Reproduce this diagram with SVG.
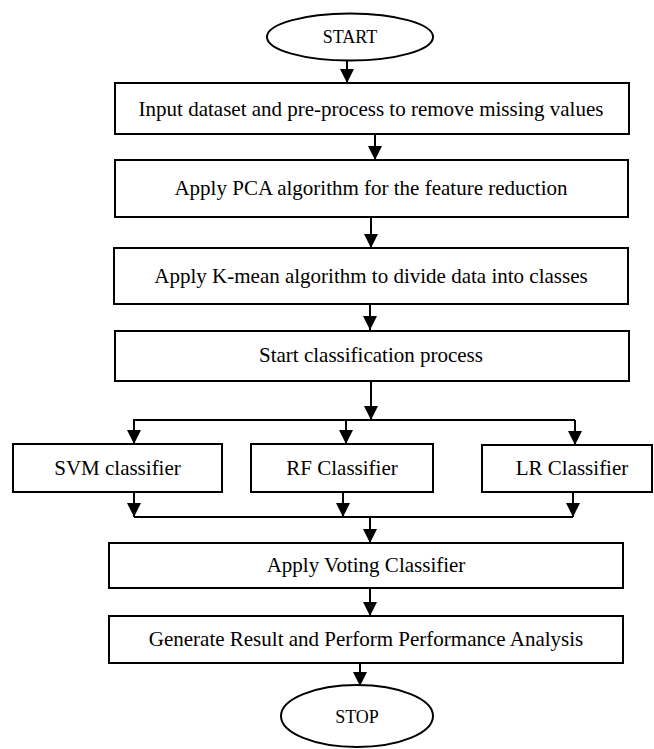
<svg xmlns="http://www.w3.org/2000/svg" width="654" height="749" viewBox="0 0 654 749">
<defs>
<marker id="ah" viewBox="0 0 14 14" refX="14" refY="7" markerWidth="14" markerHeight="14" markerUnits="userSpaceOnUse" orient="auto">
<path d="M0,0 L14,7 L0,14 Z" fill="#000"/>
</marker>
<style>
.box{fill:#fff;stroke:#000;stroke-width:2}
.t{font-family:"Liberation Serif","Times New Roman",serif;font-size:21px;fill:#000;text-anchor:middle}
.s{font-family:"Liberation Serif","Times New Roman",serif;font-size:18px;fill:#000;text-anchor:middle}
.c{fill:none;stroke:#000;stroke-width:2}
.a{fill:none;stroke:#000;stroke-width:2;marker-end:url(#ah)}
</style>
</defs>
<rect width="654" height="749" fill="#fff"/>
<g id="connectors">
<line class="a" x1="347" y1="60" x2="347" y2="83"/>
<line class="a" x1="375" y1="134" x2="375" y2="160"/>
<line class="a" x1="371" y1="217" x2="371" y2="248"/>
<line class="a" x1="370" y1="304" x2="370" y2="330"/>
<line class="a" x1="371" y1="381" x2="371" y2="420"/>
<polyline class="c" points="134,430 134,420 575,420"/>
<line class="a" x1="134" y1="420" x2="134" y2="444"/>
<line class="a" x1="346" y1="420" x2="346" y2="444"/>
<line class="a" x1="575" y1="420" x2="575" y2="445"/>
<line class="a" x1="134" y1="492" x2="134" y2="517"/>
<line class="a" x1="343" y1="492" x2="343" y2="517"/>
<line class="a" x1="573" y1="492" x2="573" y2="517"/>
<line class="c" x1="134" y1="517" x2="573" y2="517"/>
<line class="a" x1="370" y1="517" x2="370" y2="543"/>
<line class="a" x1="370" y1="588" x2="370" y2="616"/>
<line class="a" x1="360" y1="663" x2="360" y2="686"/>
</g>
<g id="start">
<ellipse class="box" cx="350" cy="37" rx="83" ry="23.5"/>
<text class="s" x="350" y="43">START</text>
</g>
<g id="input">
<rect class="box" x="115" y="83" width="514" height="51"/>
<text class="t" x="371" y="116">Input dataset and pre-process to remove missing values</text>
</g>
<g id="pca">
<rect class="box" x="115" y="160" width="513" height="57"/>
<text class="t" x="371" y="195">Apply PCA algorithm for the feature reduction</text>
</g>
<g id="kmean">
<rect class="box" x="114" y="248" width="514" height="56"/>
<text class="t" x="371" y="283">Apply K-mean algorithm to divide data into classes</text>
</g>
<g id="startclass">
<rect class="box" x="115" y="331" width="514" height="50"/>
<text class="t" x="371" y="362">Start classification process</text>
</g>
<g id="svm">
<rect class="box" x="13" y="444" width="209" height="48"/>
<text class="t" x="117.5" y="475">SVM classifier</text>
</g>
<g id="rf">
<rect class="box" x="251" y="444" width="182" height="48"/>
<text class="t" x="342" y="475">RF Classifier</text>
</g>
<g id="lr">
<rect class="box" x="482" y="445" width="170" height="47"/>
<text class="t" x="572" y="475">LR Classifier</text>
</g>
<g id="voting">
<rect class="box" x="109" y="543" width="514" height="45"/>
<text class="t" x="366" y="572">Apply Voting Classifier</text>
</g>
<g id="generate">
<rect class="box" x="109" y="616" width="514" height="47"/>
<text class="t" x="366" y="646">Generate Result and Perform Performance Analysis</text>
</g>
<g id="stop">
<ellipse class="box" cx="357" cy="716" rx="76" ry="31"/>
<text class="s" x="357" y="723">STOP</text>
</g>
</svg>
